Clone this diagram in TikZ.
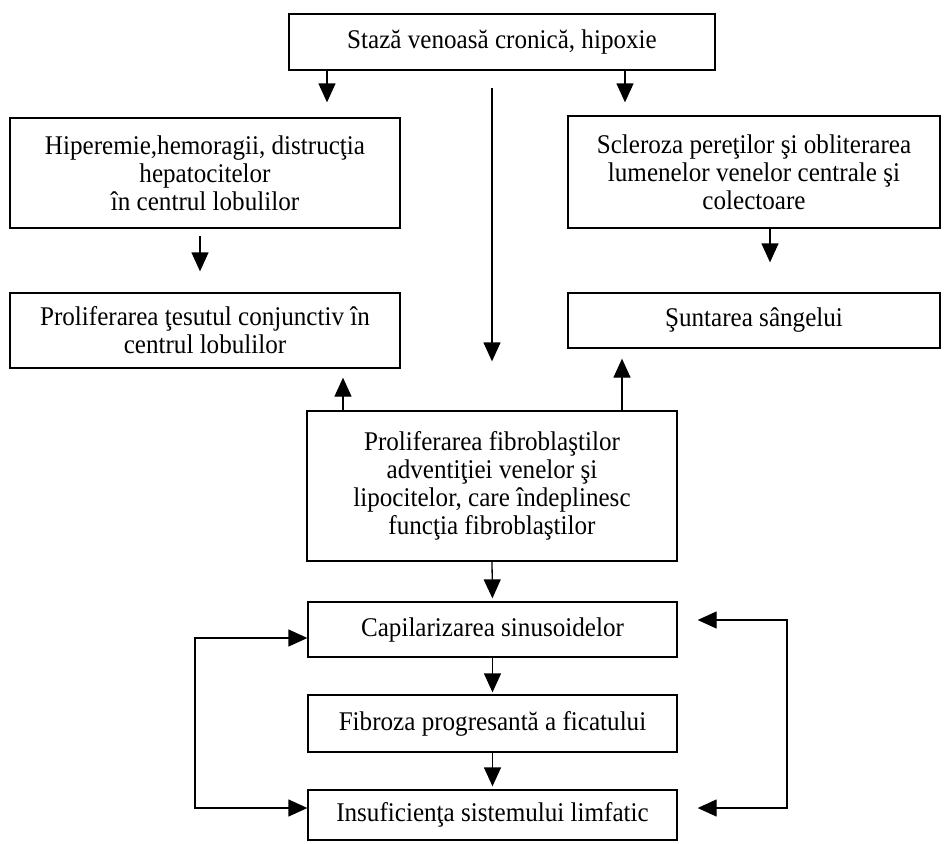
\documentclass[tikz,border=0pt]{standalone}
\usepackage{fontspec}
\setmainfont{Liberation Serif}[FakeStretch=0.93]
\usetikzlibrary{arrows.meta}
\begin{document}
\begin{tikzpicture}[x=1pt,y=-1pt,
  box/.style={draw=black, line width=1.3pt, inner sep=2pt, align=center,
    font=\fontsize{27}{28}\selectfont, text=black},
  arr/.style={draw=black, line width=1.3pt, -{Triangle[length=19pt,width=17pt]}},
  arrtwo/.style={draw=black, line width=1.3pt, {Triangle[length=19pt,width=17pt]}-{Triangle[length=19pt,width=17pt]}}]
\useasboundingbox[fill=white] (0,0) rectangle (946,844);

\node[box, minimum width=426pt, minimum height=56pt] (top) at (502,42) {Stază venoasă cronică, hipoxie};
\node[box, minimum width=390pt, minimum height=110pt] (lb1) at (205,173) {Hiperemie,hemoragii, distrucţia\\hepatocitelor\\în centrul lobulilor};
\node[box, minimum width=390pt, minimum height=75pt] (lb2) at (205,330.5) {Proliferarea ţesutul conjunctiv în\\centrul lobulilor};
\node[box, minimum width=372pt, minimum height=112pt] (rb1) at (754,172) {Scleroza pereţilor şi obliterarea\\lumenelor venelor centrale şi\\colectoare};
\node[box, minimum width=372pt, minimum height=55pt] (rb2) at (754,320.5) {Şuntarea sângelui};
\node[box, minimum width=370pt, minimum height=150pt] (mid) at (492,486) {Proliferarea fibroblaştilor\\adventiţiei  venelor şi\\lipocitelor, care îndeplinesc\\funcţia fibroblaştilor};
\node[box, minimum width=369pt, minimum height=55pt] (cap) at (492.5,629.5) {Capilarizarea sinusoidelor};
\node[box, minimum width=369pt, minimum height=57pt] (fib) at (492.5,723.5) {Fibroza progresantă a ficatului};
\node[box, minimum width=369pt, minimum height=50pt] (ins) at (492.5,815) {Insuficienţa sistemului limfatic};

\coordinate (xa) at (327,0);
\coordinate (xb) at (625,0);
\coordinate (xc) at (200,0);
\coordinate (xd) at (770,0);
\coordinate (xe) at (343,0);
\coordinate (xf) at (622,0);
\coordinate (xl) at (195,0);
\coordinate (xr) at (787,0);

\draw[arr, shorten >=15pt] (top.south -| xa) -- (lb1.north -| xa);
\draw[arr, shorten >=13pt] (top.south -| xb) -- (rb1.north -| xb);
\draw[arr, shorten <=17pt, shorten >=49pt] (top.south -| mid.north) -- (mid.north);
\draw[arr, shorten <=7pt, shorten >=21pt] (lb1.south -| xc) -- (lb2.north -| xc);
\draw[arr, shorten >=30pt] (rb1.south -| xd) -- (rb2.north -| xd);
\draw[arr, shorten >=9pt] (mid.north -| xe) -- (lb2.south -| xe);
\draw[arr, shorten >=10pt] (mid.north -| xf) -- (rb2.south -| xf);
\draw[arr, shorten >=3pt] (mid.south) -- (cap.north);
\draw[arr, shorten >=2pt] (cap.south) -- (fib.north);
\draw[arr, shorten >=3pt] (fib.south) -- (ins.north);

\draw[arrtwo] ([yshift=-8.5pt]cap.west) -- ([yshift=-8.5pt]cap.west -| xl) -- ([yshift=7pt]ins.west -| xl) -- ([yshift=7pt]ins.west);
\draw[arrtwo, shorten <=20pt, shorten >=20pt] ([yshift=9.5pt]cap.east) -- ([yshift=9.5pt]cap.east -| xr) -- ([yshift=7pt]ins.east -| xr) -- ([yshift=7pt]ins.east);
\end{tikzpicture}
\end{document}
